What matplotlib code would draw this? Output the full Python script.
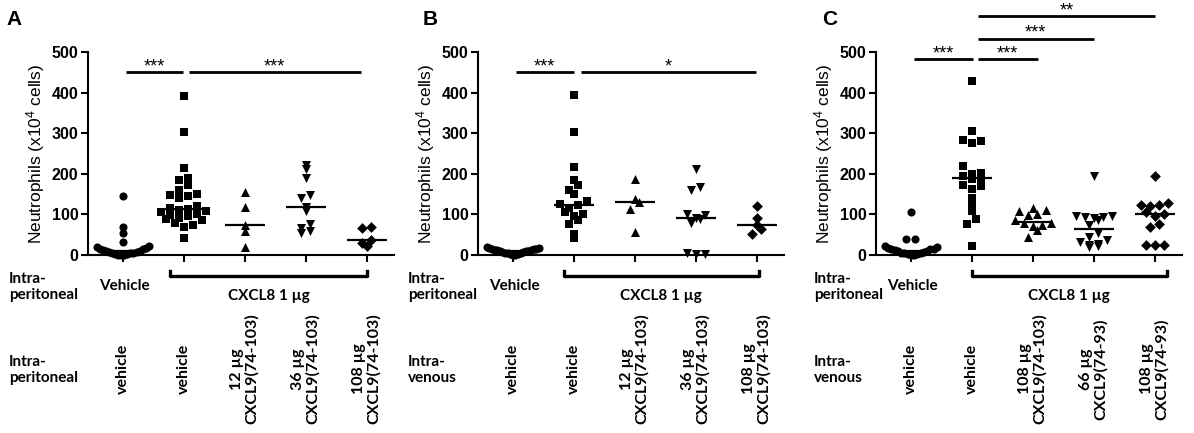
import matplotlib
matplotlib.use("Agg")
import matplotlib.pyplot as plt
import matplotlib.transforms as mtransforms
import numpy as np

plt.rcParams["font.family"] = ["Liberation Sans", "DejaVu Sans"]
plt.rcParams["mathtext.fontset"] = "custom"
plt.rcParams["mathtext.rm"] = "Liberation Sans"
plt.rcParams["mathtext.default"] = "regular"

# --- data (neutrophils, x10^4 cells) ---
A_VEH = [145, 68, 55, 33, 22, 20, 18, 16, 14, 12, 10, 9, 8, 7, 6, 5, 4, 3, 2, 1, 0, 0]
A_CXCL8 = [392, 302, 215, 190, 184, 172, 160, 150, 148, 145, 140, 120, 115, 113,
           112, 108, 105, 100, 98, 95, 92, 88, 85, 80, 75, 70, 42]
A_12 = [155, 117, 73, 60, 20]
A_36 = [222, 212, 190, 147, 140, 118, 108, 77, 67, 60, 55]
A_108 = [68, 67, 38, 30, 22]

B_VEH = [20, 18, 17, 15, 15, 14, 13, 12, 12, 11, 10, 9, 8, 7, 6, 5, 4, 3, 2, 1, 0]
B_CXCL8 = [395, 302, 216, 185, 173, 159, 150, 133, 126, 122, 115, 105, 100, 97,
           85, 77, 52, 42]
B_12 = [188, 138, 131, 113, 57]
B_36 = [213, 167, 159, 100, 98, 91, 88, 80, 5, 3, 2]
B_108 = [120, 90, 75, 64, 52]

C_VEH = [105, 40, 40, 22, 20, 18, 16, 15, 14, 12, 10, 9, 8, 6, 5, 4, 3, 2, 1, 0]
C_CXCL8 = [428, 305, 283, 280, 276, 220, 203, 200, 195, 190, 188, 172, 170, 162,
           140, 125, 108, 88, 77, 22]
C_108_103 = [115, 110, 108, 100, 98, 85, 80, 78, 75, 72, 62, 45]
C_66_93 = [195, 97, 95, 94, 93, 90, 85, 75, 55, 45, 38, 32, 28, 25, 22, 20]
C_108_93 = [194, 127, 124, 122, 120, 105, 100, 95, 77, 69, 25, 24, 24]

PANELS = ["A", "B", "C"]
GROUPS = {
    "A": [A_VEH, A_CXCL8, A_12, A_36, A_108],
    "B": [B_VEH, B_CXCL8, B_12, B_36, B_108],
    "C": [C_VEH, C_CXCL8, C_108_103, C_66_93, C_108_93],
}
MARKERS = ["o", "s", "^", "v", "D"]
ROUTE2 = {"A": "Intra-\nperitoneal", "B": "Intra-\nvenous", "C": "Intra-\nvenous"}
TREAT = {
    "A": ["vehicle", "vehicle", "12 µg\nCXCL9(74-103)", "36 µg\nCXCL9(74-103)",
          "108 µg\nCXCL9(74-103)"],
    "B": ["vehicle", "vehicle", "12 µg\nCXCL9(74-103)", "36 µg\nCXCL9(74-103)",
          "108 µg\nCXCL9(74-103)"],
    "C": ["vehicle", "vehicle", "108 µg\nCXCL9(74-103)", "66 µg\nCXCL9(74-93)",
          "108 µg\nCXCL9(74-93)"],
}
# significance bars: (from group, to group, height, label)
SIG = {
    "A": [(1.05, 1.98, 450, "***"), (2.08, 4.9, 450, "***")],
    "B": [(1.05, 2.0, 450, "***"), (2.12, 4.98, 450, "*")],
    "C": [(1.05, 2.02, 482, "***"), (2.1, 3.08, 482, "***"),
          (2.1, 4.0, 533, "***"), (2.1, 5.0, 588, "**")],
}

W, H = 1194, 433
AX_LEFT_PX = {"A": 88, "B": 478, "C": 876}
LETTER_X_PX = {"A": 6, "B": 423, "C": 822}
ROUTE_X = {"A": -0.87, "B": -0.72, "C": -0.59}
BRACKET = {"A": (1.78, 5.0), "B": (1.84, 5.03), "C": (2.0, 5.2)}
XLIM = (0.43, 5.45)
PX_PER_X = 61.0
PX_PER_Y = 203.0 / 500.0
LABEL_FONT = ["Lato", "DejaVu Sans"]


def spread(values, bin_px=9.0, gap_px=9.0, max_px=52.0):
    """Scatter-dot spread: points in the same height band sit side by side,
    lowest in the middle, squeezed together when the band gets crowded."""
    vals = np.asarray(values, dtype=float)
    offs = np.zeros(len(vals))
    bins = np.floor(vals * PX_PER_Y / bin_px).astype(int)
    for b in np.unique(bins):
        idx = np.where(bins == b)[0]
        idx = idx[np.argsort(vals[idx], kind="stable")]
        n = len(idx)
        if n == 1:
            continue
        gap = min(gap_px, max_px / (n - 1))
        slots = []
        for k in range(n):
            j = (k + 1) // 2
            slots.append(j if k % 2 else -j)
        slots = np.array(slots, dtype=float)
        slots -= (slots.max() + slots.min()) / 2
        offs[idx] = slots * gap / PX_PER_X
    return offs


fig = plt.figure(figsize=(W / 100, H / 100), dpi=100)

for p in PANELS:
    left = AX_LEFT_PX[p] / W
    width = PX_PER_X * (XLIM[1] - XLIM[0]) / W
    bottom = 1 - 255 / H
    height = 203 / H
    ax = fig.add_axes([left, bottom, width, height])

    for gi, (vals, mk) in enumerate(zip(GROUPS[p], MARKERS)):
        x = gi + 1 + spread(vals)
        size = 42 if mk in ("^", "v") else (30 if mk == "D" else 34)
        ax.scatter(x, vals, marker=mk, s=size, color="black", linewidths=0,
                   zorder=3, clip_on=False)
        med = np.median(vals)
        ax.plot([gi + 1 - 0.33, gi + 1 + 0.33], [med, med], color="black",
                lw=1.6, zorder=4, solid_capstyle="butt")

    ax.set_xlim(*XLIM)
    ax.set_ylim(0, 500)
    ax.set_yticks([0, 100, 200, 300, 400, 500])
    ax.set_xticks([1, 2, 3, 4, 5])
    ax.set_xticklabels([])
    for s in ("top", "right"):
        ax.spines[s].set_visible(False)
    for s in ("left", "bottom"):
        ax.spines[s].set_linewidth(1.5)
    ax.tick_params(axis="both", direction="out", length=5, width=1.5, pad=2)
    for lab in ax.get_yticklabels():
        lab.set_fontsize(11.5)
        lab.set_fontweight("bold")
    ax.set_ylabel("Neutrophils (x10$^{4}$ cells)", fontsize=12.5, labelpad=3)

    for x1, x2, yv, txt in SIG[p]:
        ax.plot([x1, x2], [yv, yv], color="black", lw=2, clip_on=False,
                solid_capstyle="butt")
        ax.text((x1 + x2) / 2, yv + 2, txt, ha="center", va="baseline",
                fontsize=13, clip_on=False)

    # panel letter
    fig.text(LETTER_X_PX[p] / W, 1 - 25 / H, p, fontsize=15,
             fontweight="bold", ha="left", va="baseline")

    # annotation rows below the axis
    tr = mtransforms.blended_transform_factory(ax.transData, fig.transFigure)
    ax.text(ROUTE_X[p], 1 - 287 / H, "Intra-\nperitoneal", transform=tr,
            ha="left", va="center", fontsize=11, fontweight="bold",
            family=LABEL_FONT, linespacing=1.15)
    ax.text(1.03, 1 - 286 / H, "Vehicle", transform=tr, ha="center",
            va="center", fontsize=11, fontweight="bold", family=LABEL_FONT)
    bx1, bx2 = BRACKET[p]
    yb = 1 - 276 / H
    ytip = 1 - 271 / H
    ax.plot([bx1, bx1, bx2, bx2], [ytip, yb, yb, ytip], transform=tr,
            color="black", lw=2.4, clip_on=False)
    ax.text((bx1 + bx2) / 2, 1 - 296 / H, "CXCL8 1 µg", transform=tr,
            ha="center", va="center", fontsize=11, fontweight="bold",
            family=LABEL_FONT)
    ax.text(ROUTE_X[p], 1 - 370 / H, ROUTE2[p], transform=tr, ha="left",
            va="center", fontsize=11, fontweight="bold", family=LABEL_FONT,
            linespacing=1.15)
    for gi, lab in enumerate(TREAT[p]):
        ax.text(gi + 1, 1 - 369 / H, lab, transform=tr, rotation=90,
                ha="center", va="center", multialignment="center",
                fontsize=11.5, fontweight="bold", family=LABEL_FONT,
                linespacing=1.05)

fig.savefig("out.png", dpi=100)
